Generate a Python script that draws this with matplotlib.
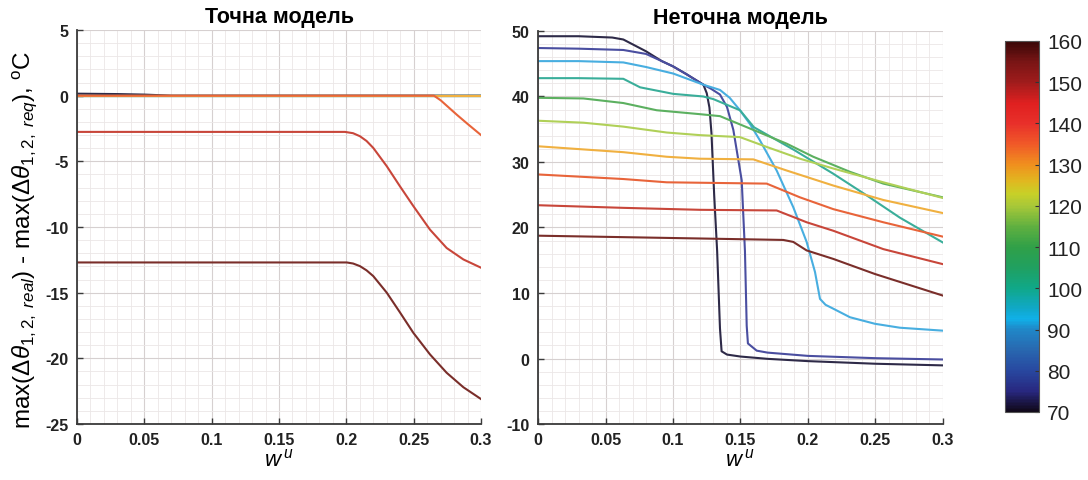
import numpy as np
import matplotlib
matplotlib.use("Agg")
import matplotlib.pyplot as plt
from matplotlib.colors import LinearSegmentedColormap, Normalize
from matplotlib.cm import ScalarMappable
from matplotlib.ticker import MultipleLocator

plt.rcParams["font.family"] = ["Liberation Sans", "DejaVu Sans"]
plt.rcParams["mathtext.fontset"] = "custom"
plt.rcParams["mathtext.rm"] = "Liberation Sans"
plt.rcParams["mathtext.it"] = "Liberation Sans:italic"
plt.rcParams["mathtext.bf"] = "Liberation Sans:bold"
plt.rcParams["axes.unicode_minus"] = False

# temperatures of the curves (colour scale)
temps = [70, 80, 90, 100, 110, 120, 130, 140, 150, 160]
line_colors = ["#2e2a48", "#4a4ea0", "#48aee0", "#3aae9a", "#5cb060",
               "#b0d058", "#f0b040", "#e8643a", "#c8463a", "#7a2e2a"]

# exact model: w^u -> difference, one pair of lists per temperature
exact_w = {
    70: [0, 0.03, 0.05, 0.07, 0.3],
    80: [0, 0.3], 90: [0, 0.3], 100: [0, 0.3], 110: [0, 0.3],
    120: [0, 0.3], 130: [0, 0.3],
    140: [0, 0.265, 0.27, 0.282, 0.29, 0.3],
    150: [0, 0.199, 0.205, 0.2101, 0.215, 0.22, 0.23, 0.2398, 0.2497, 0.2621, 0.2745,
          0.2869, 0.3],
    160: [0, 0.2003, 0.205, 0.2101, 0.215, 0.22, 0.23, 0.2398, 0.2497, 0.2621, 0.2745,
          0.2869, 0.3],
}
exact_v = {
    70: [0.15, 0.12, 0.08, 0, 0],
    80: [0, 0], 90: [0, 0], 100: [0, 0], 110: [0, 0],
    120: [0, 0], 130: [0, 0],
    140: [0, 0, -0.35, -1.45, -2.15, -3.0],
    150: [-2.76, -2.76, -2.86, -3.09, -3.45, -3.98, -5.37, -6.9, -8.4, -10.2, -11.6,
          -12.47, -13.1],
    160: [-12.7, -12.7, -12.78, -12.98, -13.3, -13.74, -15.0, -16.5, -18.05, -19.7, -21.1,
          -22.2, -23.1],
}

# inexact model
inexact_w = {
    70: [0, 0.03, 0.055, 0.0632, 0.08, 0.0917, 0.1, 0.11, 0.1225, 0.125, 0.127, 0.1285,
         0.1305, 0.1327, 0.1348, 0.136, 0.14, 0.15, 0.17, 0.2, 0.25, 0.3],
    80: [0, 0.03, 0.0632, 0.08, 0.0917, 0.1, 0.11, 0.1225, 0.128, 0.1348, 0.14, 0.1447,
         0.1509, 0.1533, 0.1546, 0.1555, 0.162, 0.17, 0.2, 0.25, 0.3],
    90: [0, 0.03, 0.0632, 0.08, 0.1002, 0.1225, 0.1348, 0.142, 0.1496, 0.157, 0.1644,
         0.1768, 0.1891, 0.199, 0.2052, 0.2089, 0.213, 0.2188, 0.2311, 0.2496, 0.2681, 0.3],
    100: [0, 0.03, 0.0632, 0.0756, 0.1002, 0.1225, 0.1299, 0.1496, 0.16, 0.19, 0.2188,
          0.2435, 0.2681, 0.3],
    110: [0, 0.0336, 0.0632, 0.0879, 0.12, 0.1348, 0.1595, 0.1842, 0.2039, 0.2311, 0.2558, 0.3],
    120: [0, 0.0336, 0.0632, 0.0953, 0.12, 0.1496, 0.1694, 0.1941, 0.2188, 0.2558, 0.3],
    130: [0, 0.0632, 0.0953, 0.12, 0.1595, 0.1842, 0.2188, 0.2558, 0.3],
    140: [0, 0.0632, 0.0953, 0.1694, 0.1941, 0.2188, 0.2558, 0.3],
    150: [0, 0.0632, 0.12, 0.1768, 0.199, 0.2188, 0.2558, 0.3],
    160: [0, 0.0706, 0.1817, 0.1891, 0.199, 0.2188, 0.2496, 0.3],
}
inexact_v = {
    70: [49.2, 49.2, 49.0, 48.7, 46.9, 45.4, 44.6, 43.4, 41.8, 40.5, 38.3, 34.4,
         25, 16.4, 4.6, 1.1, 0.6, 0.3, -0.05, -0.4, -0.8, -1.05],
    80: [47.4, 47.3, 47.1, 46.5, 45.4, 44.6, 43.4, 41.8, 41.2, 40.3, 38.4, 34.9,
         27.2, 16.4, 5, 2.3, 1.2, 0.9, 0.4, 0.05, -0.15],
    90: [45.4, 45.4, 45.2, 44.5, 43.5, 41.8, 41.0, 39.8, 37.9, 35.8, 33.3,
         28.7, 23.1, 17.8, 13.2, 9.1, 8.2, 7.6, 6.3, 5.3, 4.7, 4.25],
    100: [42.8, 42.8, 42.7, 41.4, 40.4, 40.0, 39.6, 37.9, 35.3, 31.8, 28.2,
          24.9, 21.5, 17.7],
    110: [39.8, 39.7, 39.0, 37.9, 37.3, 37.0, 34.9, 32.8, 30.8, 28.5, 26.7, 24.6],
    120: [36.3, 36.0, 35.4, 34.5, 34.1, 33.8, 32.3, 30.5, 29.0, 26.9, 24.5],
    130: [32.4, 31.5, 30.8, 30.5, 30.4, 28.7, 26.4, 24.2, 22.2],
    140: [28.1, 27.4, 26.9, 26.7, 24.6, 22.8, 20.8, 18.6],
    150: [23.4, 23.0, 22.7, 22.6, 20.8, 19.5, 16.7, 14.4],
    160: [18.75, 18.5, 18.1, 17.8, 16.5, 15.2, 12.9, 9.6],
}

cbar_ticks = [70, 80, 90, 100, 110, 120, 130, 140, 150, 160]

# dark-ended jet-like colour scale
stops = [
    (0.000, "#100818"), (0.055, "#282880"), (0.111, "#2848a0"), (0.167, "#2868b0"),
    (0.222, "#2088c8"), (0.250, "#10b0e8"), (0.278, "#10a8c8"), (0.333, "#10a888"),
    (0.389, "#20a060"), (0.444, "#30a048"), (0.500, "#60b040"), (0.556, "#a8c838"),
    (0.589, "#c8d028"), (0.622, "#e0b820"), (0.667, "#f0901e"), (0.722, "#f05a28"),
    (0.778, "#e8302a"), (0.833, "#e02020"), (0.889, "#a01c1c"), (0.944, "#7a1515"),
    (1.000, "#3a0808"),
]
cmap = LinearSegmentedColormap.from_list("temp", stops)
norm = Normalize(vmin=70, vmax=160)

fig = plt.figure(figsize=(10.88, 4.81), dpi=100)
ax1 = fig.add_axes([0.0708, 0.1164, 0.3713, 0.8192])
ax2 = fig.add_axes([0.4945, 0.1164, 0.3722, 0.8171])
cax = fig.add_axes([0.9237, 0.1414, 0.0313, 0.7713])

for t, c in zip(temps, line_colors):
    ax1.plot(exact_w[t], exact_v[t], color=c, lw=1.5)
    ax2.plot(inexact_w[t], inexact_v[t], color=c, lw=1.5)


def style_axes(ax, ylim, ymajor, yminor):
    ax.set_xlim(0, 0.3)
    ax.set_ylim(*ylim)
    ax.xaxis.set_major_locator(MultipleLocator(0.05))
    ax.xaxis.set_minor_locator(MultipleLocator(0.01))
    ax.yaxis.set_major_locator(MultipleLocator(ymajor))
    ax.yaxis.set_minor_locator(MultipleLocator(yminor))
    ax.xaxis.set_major_formatter(plt.FuncFormatter(lambda v, p: f"{v:g}"))
    ax.grid(which="major", color="#d6d0d0", lw=0.8)
    ax.grid(which="minor", color="#ebe7e7", lw=0.6)
    ax.set_axisbelow(True)
    for s in ["top", "right"]:
        ax.spines[s].set_visible(False)
    for s in ["left", "bottom"]:
        ax.spines[s].set_color("#3a3a3a")
        ax.spines[s].set_linewidth(1.3)
    ax.tick_params(which="major", direction="in", length=4, width=1,
                   color="#3a3a3a", labelsize=11.5, labelcolor="#222222", pad=6)
    ax.tick_params(which="minor", length=0)
    for lab in ax.get_xticklabels() + ax.get_yticklabels():
        lab.set_fontweight("bold")
    ax.set_xlabel(r"$\mathbf{\mathit{w}}^{\;u}$", fontsize=16, labelpad=1)


style_axes(ax1, (-25, 5), 5, 1)
style_axes(ax2, (-10, 50), 10, 2)

ax1.set_title("Точна модель", fontsize=15.5, fontweight="bold", pad=6)
ax2.set_title("Неточна модель", fontsize=15.5, fontweight="bold", pad=6)
ax1.set_ylabel(r"max($\Delta\mathit{\theta}_{1,2,\ real}$) - max($\Delta\mathit{\theta}_{1,2,\ req}$), $^{\rm o}$C",
               fontsize=17.5)
ax1.yaxis.set_label_coords(-0.095, 0.47)

cb = fig.colorbar(ScalarMappable(norm=norm, cmap=cmap), cax=cax, ticks=cbar_ticks)
cb.outline.set_edgecolor("#555555")
cb.outline.set_linewidth(0.8)
cax.tick_params(direction="in", length=3, width=0.8, color="#333333",
                labelsize=15, labelcolor="#222222", pad=6)

fig.savefig("out.png", dpi=100)
